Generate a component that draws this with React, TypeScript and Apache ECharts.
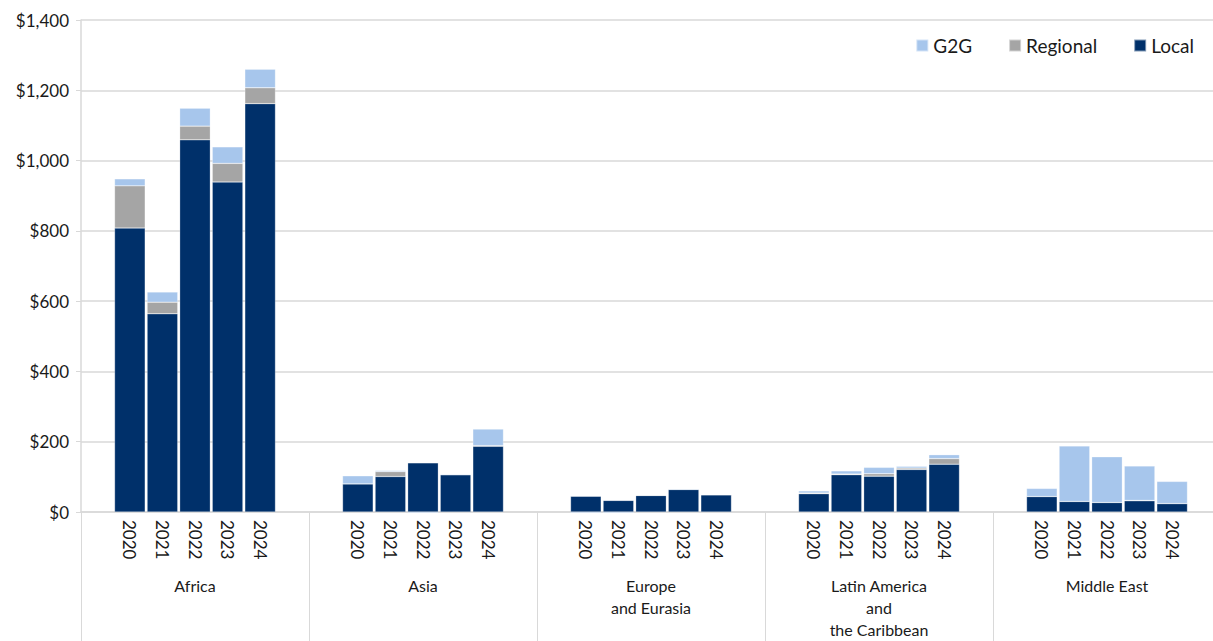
import React, { useEffect, useRef } from "react";
import * as echarts from "echarts";

// Funding by region and fiscal year, split by implementing partner type ($ millions)
const years = ["2020", "2021", "2022", "2023", "2024"];
const regions = [
  "Africa",
  "Asia",
  "Europe\nand Eurasia",
  "Latin America\nand\nthe Caribbean",
  "Middle East",
];

// Values are ordered region by region, 2020 → 2024 within each region
const localValues = [
  808, 564, 1059, 939, 1162,
  80, 101, 140, 106, 187,
  45, 33, 47, 64, 49,
  52, 106, 102, 121, 136,
  44, 30, 27, 32, 24,
];
const regionalValues = [
  120, 33, 39, 53, 45,
  0, 14, 0, 0, 2,
  0, 0, 0, 0, 0,
  2, 2, 7, 4, 16,
  0, 0, 0, 1, 0,
];
const g2gValues = [
  20, 29, 51, 47, 53,
  23, 3, -3, 2, 47,
  -3, -3, 0, 2, 0,
  6, 9, 18, 5, 11,
  23, 158, 130, 98, 63,
];

const yTicks = [0, 200, 400, 600, 800, 1000, 1200, 1400];

const FONT = "Lato, 'DejaVu Sans', sans-serif";
const LOCAL_COLOR = "#00306A";
const REGIONAL_COLOR = "#A5A5A5";
const G2G_COLOR = "#A7C6EC";
const GRID_COLOR = "#D9D9D9";

// Each region occupies 7 slots: an empty slot, five years, an empty slot
const slotKeys: string[] = [];
const slotIndex: (number | null)[] = [];
regions.forEach((r, ri) => {
  slotKeys.push(`${ri}|`);
  slotIndex.push(null);
  years.forEach((y, yi) => {
    slotKeys.push(`${ri}|${y}`);
    slotIndex.push(ri * years.length + yi);
  });
  slotKeys.push(`${ri}| `);
  slotIndex.push(null);
});

const spread = (values: number[]) =>
  slotIndex.map((i) => (i === null ? null : values[i]));

export default function App() {
  const ref = useRef<HTMLDivElement>(null);

  useEffect(() => {
    if (!ref.current) return;
    const chart = echarts.init(ref.current, undefined, { renderer: "svg" });

    const barBase = {
      type: "bar" as const,
      stack: "total",
      xAxisIndex: 0,
      barCategoryGap: "6%",
      clip: false,
      itemStyle: { borderColor: "rgba(255,255,255,0.5)", borderWidth: 0.5 },
    };

    chart.setOption({
      animation: false,
      backgroundColor: "#ffffff",
      textStyle: { fontFamily: FONT },
      grid: { left: 81, right: 0, top: 20, bottom: 129, containLabel: false },
      legend: {
        data: ["G2G", "Regional", "Local"],
        right: 22,
        top: 31,
        icon: "rect",
        itemWidth: 12,
        itemHeight: 12,
        itemGap: 36,
        textStyle: { fontSize: 19, color: "#1a1a1a", fontFamily: FONT },
      },
      xAxis: [
        {
          type: "category",
          data: slotKeys,
          position: "bottom",
          offset: 0,
          axisLine: { show: true, lineStyle: { color: GRID_COLOR, width: 1.5 } },
          axisTick: { show: false },
          axisLabel: {
            interval: 0,
            rotate: -90,
            margin: 8,
            fontSize: 17,
            color: "#1a1a1a",
            fontFamily: FONT,
            formatter: (v: string) => v.split("|")[1].trim(),
          },
        },
        {
          type: "category",
          data: regions,
          position: "bottom",
          offset: 0,
          axisLine: { show: false },
          axisTick: {
            show: true,
            interval: 0,
            length: 130,
            lineStyle: { color: GRID_COLOR, width: 1 },
          },
          axisLabel: {
            interval: 0,
            margin: 62,
            fontSize: 16,
            lineHeight: 22,
            color: "#1a1a1a",
            fontFamily: FONT,
          },
        },
      ],
      yAxis: {
        type: "value",
        min: yTicks[0],
        max: yTicks[yTicks.length - 1],
        interval: 200,
        axisLine: { show: true, lineStyle: { color: GRID_COLOR, width: 1.5 } },
        axisTick: { show: true, length: 5, lineStyle: { color: GRID_COLOR } },
        splitLine: { show: true, lineStyle: { color: GRID_COLOR, width: 1.5 } },
        axisLabel: {
          margin: 12,
          fontSize: 17,
          color: "#1a1a1a",
          fontFamily: FONT,
          formatter: (v: number) => "$" + v.toLocaleString("en-US"),
        },
      },
      series: [
        { ...barBase, name: "Local", data: spread(localValues), itemStyle: { ...barBase.itemStyle, color: LOCAL_COLOR } },
        { ...barBase, name: "Regional", data: spread(regionalValues), itemStyle: { ...barBase.itemStyle, color: REGIONAL_COLOR } },
        { ...barBase, name: "G2G", data: spread(g2gValues), itemStyle: { ...barBase.itemStyle, color: G2G_COLOR } },
      ],
    });

    return () => chart.dispose();
  }, []);

  // The plot runs slightly past the right edge of the window
  return (
    <div
      ref={ref}
      style={{ position: "fixed", left: 0, top: 0, width: 1221, height: 641 }}
    />
  );
}
